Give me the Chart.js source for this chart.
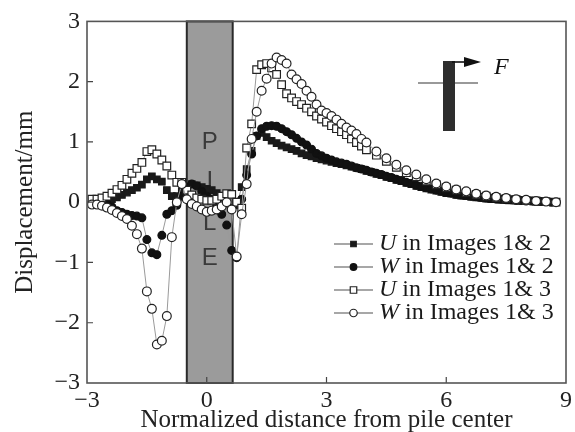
<!DOCTYPE html>
<html>
<head>
<meta charset="utf-8">
<script src="https://cdn.jsdelivr.net/npm/chart.js@4.4.1/dist/chart.umd.min.js"></script>
<style>
  html, body { margin: 0; padding: 0; background: #fff; }
  #wrap { width: 575px; height: 432px; position: relative; }
</style>
</head>
<body>
<div id="wrap"><canvas id="chart"></canvas></div>
<script>
// --- DATA ---
// x positions (normalized distance) of the filled-marker series (Images 1& 2)
const xFilled = [
  -2.875, -2.75, -2.625, -2.5, -2.375, -2.25, -2.125, -2.0, -1.875, -1.75,
  -1.625, -1.5, -1.375, -1.25, -1.125, -1.0, -0.875, -0.75, -0.625, -0.5,
  -0.375, -0.25, -0.125, 0, 0.125, 0.25, 0.375, 0.5, 0.625, 0.75,
  0.875, 1.0, 1.125, 1.25, 1.375, 1.5, 1.625, 1.75, 1.875, 2.0,
  2.125, 2.25, 2.375, 2.5, 2.625, 2.75, 2.875, 3.0, 3.125, 3.25,
  3.375, 3.5, 3.625, 3.75, 3.875, 4.0, 4.125, 4.25, 4.375, 4.5,
  4.625, 4.75, 4.875, 5.0, 5.125, 5.25, 5.375, 5.5, 5.625, 5.75,
  5.875, 6.0, 6.125, 6.25, 6.375, 6.5, 6.625, 6.75, 6.875, 7.0,
  7.125, 7.25, 7.375, 7.5, 7.625, 7.75, 7.875, 8.0, 8.125, 8.25,
  8.375, 8.5, 8.625, 8.75
];
const uImg12 = [
  0.02, 0.02, 0.02, 0.03, 0.05, 0.08, 0.12, 0.16, 0.20, 0.24,
  0.29, 0.38, 0.43, 0.38, 0.34, 0.20, 0.10, 0.10, 0.18, 0.26,
  0.30, 0.28, 0.25, 0.22, 0.20, 0.15, 0.08, -0.02, -0.10, -0.05,
  0.25, 0.55, 0.85, 1.10, 1.15, 1.08, 1.02, 0.98, 0.94, 0.91,
  0.88, 0.85, 0.81, 0.78, 0.76, 0.73, 0.71, 0.69, 0.67, 0.65,
  0.63, 0.61, 0.59, 0.57, 0.55, 0.52, 0.50, 0.47, 0.45, 0.42,
  0.40, 0.37, 0.35, 0.32, 0.30, 0.27, 0.25, 0.23, 0.21, 0.19,
  0.17, 0.15, 0.14, 0.12, 0.11, 0.10, 0.09, 0.08, 0.07, 0.06,
  0.05, 0.05, 0.04, 0.04, 0.03, 0.03, 0.02, 0.02, 0.02, 0.01,
  0.01, 0.01, 0.00, 0.00
];
const wImg12 = [
  0.00, 0.00, 0.00, -0.03, -0.08, -0.14, -0.17, -0.20, -0.22, -0.23,
  -0.26, -0.62, -0.84, -0.87, -0.55, -0.20, -0.14, -0.05, 0.10, 0.25,
  0.30, 0.27, 0.18, 0.10, 0.05, -0.05, -0.20, -0.38, -0.80, -0.92,
  0.05, 0.45, 0.80, 1.10, 1.22, 1.26, 1.27, 1.26, 1.22, 1.17,
  1.12, 1.06, 1.00, 0.95, 0.88, 0.81, 0.77, 0.73, 0.70, 0.67,
  0.65, 0.63, 0.60, 0.57, 0.55, 0.53, 0.50, 0.48, 0.46, 0.43,
  0.41, 0.38, 0.36, 0.33, 0.31, 0.28, 0.26, 0.24, 0.22, 0.20,
  0.18, 0.16, 0.15, 0.13, 0.12, 0.11, 0.10, 0.09, 0.08, 0.07,
  0.06, 0.05, 0.05, 0.04, 0.04, 0.03, 0.03, 0.02, 0.02, 0.01,
  0.01, 0.01, 0.00, 0.00
];

// x positions of the open-marker series (Images 1& 3)
const xOpen = [
  -2.875, -2.75, -2.625, -2.5, -2.375, -2.25, -2.125, -2.0, -1.875, -1.75,
  -1.625, -1.5, -1.375, -1.25, -1.125, -1.0, -0.875, -0.75, -0.625, -0.5,
  -0.375, -0.25, -0.125, 0, 0.125, 0.25, 0.375, 0.5, 0.625, 0.75,
  0.875, 1.0, 1.125, 1.25, 1.375, 1.5, 1.625, 1.75, 1.875, 2.0,
  2.125, 2.25, 2.375, 2.5, 2.625, 2.75, 2.875, 3.0, 3.125, 3.25,
  3.375, 3.5, 3.625, 3.75, 3.875, 4.0, 4.25, 4.5, 4.75, 5.0,
  5.25, 5.5, 5.75, 6.0, 6.25, 6.5, 6.75, 7.0, 7.25, 7.5,
  7.75, 8.0, 8.25, 8.5, 8.75
];
const uImg13 = [
  0.05, 0.05, 0.07, 0.10, 0.15, 0.21, 0.28, 0.38, 0.48, 0.56,
  0.66, 0.84, 0.87, 0.80, 0.70, 0.60, 0.45, 0.33, 0.33, 0.20,
  0.12, 0.07, 0.05, 0.03, 0.03, 0.05, 0.10, 0.14, 0.13, 0.00,
  -0.10, 0.90, 1.30, 2.20, 2.28, 2.30, 2.23, 2.12, 1.95, 1.80,
  1.73, 1.67, 1.62, 1.56, 1.50, 1.43, 1.38, 1.33, 1.27, 1.22,
  1.17, 1.12, 1.05, 0.99, 0.93, 0.87, 0.78, 0.68, 0.58, 0.49,
  0.42, 0.35, 0.29, 0.24, 0.20, 0.16, 0.13, 0.10, 0.08, 0.06,
  0.04, 0.03, 0.02, 0.01, 0.00
];
const wImg13 = [
  -0.04, -0.04, -0.06, -0.09, -0.13, -0.18, -0.23, -0.28, -0.39, -0.53,
  -0.77, -1.48, -1.77, -2.36, -2.30, -1.89, -0.58, 0.00, 0.30, 0.05,
  -0.03, -0.07, -0.12, -0.16, -0.14, -0.12, -0.07, 0.00, -0.12, -0.90,
  -0.20, 0.30, 1.05, 1.50, 1.85, 2.05, 2.30, 2.40, 2.36, 2.30,
  2.12, 2.04, 1.96, 1.85, 1.75, 1.62, 1.52, 1.48, 1.43, 1.37,
  1.30, 1.24, 1.19, 1.13, 1.05, 0.99, 0.84, 0.73, 0.62, 0.53,
  0.46, 0.38, 0.31, 0.26, 0.21, 0.18, 0.14, 0.11, 0.09, 0.07,
  0.05, 0.04, 0.02, 0.01, 0.00
];

const legendLetters = ['U', 'W', 'U', 'W'];
const legendRest = [' in Images 1& 2', ' in Images 1& 2', ' in Images 1& 3', ' in Images 1& 3'];
const pileEdges = [-0.5, 0.65];
const pileLetters = ['P', 'I', 'L', 'E'];
const pileLetterY = [1.0, 0.35, -0.35, -0.93];

// --- STYLE ---
const SERIF = '"Liberation Serif", "Times New Roman", serif';
const markers = [
  { style: 'rect',   r: 4.6, fill: '#1a1a1a', edge: '#1a1a1a' },
  { style: 'circle', r: 3.9, fill: '#111',    edge: '#111' },
  { style: 'rect',   r: 5.4, fill: '#fff',    edge: '#222' },
  { style: 'circle', r: 4.4, fill: '#fff',    edge: '#222' }
];

const pts = (xs, ys) => xs.map((x, i) => ({ x: x, y: ys[i] }));
const seriesData = [pts(xFilled, uImg12), pts(xFilled, wImg12), pts(xOpen, uImg13), pts(xOpen, wImg13)];

const datasets = seriesData.map((d, i) => ({
  data: d,
  showLine: true,
  borderColor: '#9a9a9a',
  borderWidth: 1,
  pointStyle: markers[i].style,
  pointRadius: markers[i].r,
  pointBackgroundColor: markers[i].fill,
  pointBorderColor: markers[i].edge,
  pointBorderWidth: 1.2,
  order: 4 - i,
  clip: false
}));

function drawMarker(ctx, m, x, y) {
  ctx.save();
  ctx.fillStyle = m.fill; ctx.strokeStyle = m.edge; ctx.lineWidth = 1.2;
  ctx.beginPath();
  if (m.style === 'rect') {
    const s = m.r * Math.SQRT1_2;
    ctx.rect(x - s, y - s, 2 * s, 2 * s);
  } else {
    ctx.arc(x, y, m.r, 0, Math.PI * 2);
  }
  ctx.fill(); ctx.stroke();
  ctx.restore();
}

// --- DECORATIONS (pile, frame, inward ticks, legend, inset) ---
const decor = {
  id: 'decor',
  beforeDatasetsDraw(chart) {
    const { ctx, chartArea: a, scales: { x, y } } = chart;
    const x0 = x.getPixelForValue(pileEdges[0]);
    const x1 = x.getPixelForValue(pileEdges[1]);
    ctx.save();
    ctx.fillStyle = '#9b9b9b';
    ctx.fillRect(x0, a.top, x1 - x0, a.bottom - a.top);
    ctx.strokeStyle = '#2a2a2a'; ctx.lineWidth = 2;
    ctx.strokeRect(x0, a.top, x1 - x0, a.bottom - a.top);
    ctx.fillStyle = '#3a3a3a';
    ctx.font = '24px "Liberation Sans", Arial, sans-serif';
    ctx.textAlign = 'center'; ctx.textBaseline = 'middle';
    const xc = (x0 + x1) / 2;
    pileLetters.forEach((l, i) => ctx.fillText(l, xc, y.getPixelForValue(pileLetterY[i])));
    ctx.restore();
  },
  afterDraw(chart) {
    const { ctx, chartArea: a, scales: { x, y } } = chart;
    ctx.save();
    // inward ticks
    ctx.strokeStyle = '#444'; ctx.lineWidth = 1.2;
    ctx.beginPath();
    x.ticks.forEach(t => {
      const px = x.getPixelForValue(t.value);
      if (px <= a.left + 1 || px >= a.right - 1) return;
      ctx.moveTo(px, a.bottom); ctx.lineTo(px, a.bottom - 6);
    });
    y.ticks.forEach(t => {
      const py = y.getPixelForValue(t.value);
      if (py <= a.top + 1 || py >= a.bottom - 1) return;
      ctx.moveTo(a.left, py); ctx.lineTo(a.left + 6, py);
    });
    ctx.stroke();
    // frame
    ctx.strokeStyle = '#555'; ctx.lineWidth = 1.6;
    ctx.strokeRect(a.left, a.top, a.right - a.left, a.bottom - a.top);

    // legend
    const rowY = [244, 267, 290, 313];
    legendLetters.forEach((letter, i) => {
      const yy = rowY[i];
      ctx.strokeStyle = '#8a8a8a'; ctx.lineWidth = 1.6;
      ctx.beginPath(); ctx.moveTo(334, yy); ctx.lineTo(373, yy); ctx.stroke();
      drawMarker(ctx, { ...markers[i], r: markers[i].r * 0.85 }, 353.5, yy);
      ctx.fillStyle = '#1a1a1a'; ctx.textBaseline = 'middle'; ctx.textAlign = 'left';
      ctx.font = 'italic 24px ' + SERIF;
      ctx.fillText(letter, 379, yy);
      const w = ctx.measureText(letter).width;
      ctx.font = '24px ' + SERIF;
      ctx.fillText(legendRest[i], 379 + w, yy);
    });

    // inset sketch of the loaded pile
    ctx.strokeStyle = '#777'; ctx.lineWidth = 1.4;
    ctx.beginPath(); ctx.moveTo(418, 83); ctx.lineTo(478, 83); ctx.stroke();
    ctx.fillStyle = '#2e2e2e';
    ctx.fillRect(443, 61, 12, 70);
    ctx.strokeStyle = '#111'; ctx.lineWidth = 1.6;
    ctx.beginPath(); ctx.moveTo(452, 62); ctx.lineTo(468, 62); ctx.stroke();
    ctx.fillStyle = '#111';
    ctx.beginPath(); ctx.moveTo(481, 62); ctx.lineTo(464, 57); ctx.lineTo(464, 67); ctx.closePath(); ctx.fill();
    ctx.font = 'italic 24px ' + SERIF;
    ctx.textBaseline = 'middle'; ctx.textAlign = 'left';
    ctx.fillText('F', 494, 68);
    ctx.restore();
  }
};

const minus = v => (v < 0 ? '\u2212' + Math.abs(v) : String(v));

new Chart(document.getElementById('chart'), {
  type: 'scatter',
  data: { datasets: datasets },
  options: {
    responsive: true,
    maintainAspectRatio: false,
    animation: false,
    layout: { padding: { top: 18, right: 8, left: 0, bottom: 0 } },
    plugins: { legend: { display: false }, tooltip: { enabled: false } },
    scales: {
      x: {
        type: 'linear', min: -3, max: 9,
        ticks: { stepSize: 3, color: '#222', padding: 3, maxRotation: 0,
                 font: { family: SERIF, size: 24 }, callback: minus },
        grid: { display: false, drawTicks: false },
        border: { display: false },
        title: { display: true, text: 'Normalized distance from pile center', color: '#222',
                 font: { family: SERIF, size: 25, lineHeight: 0.9 }, padding: { top: 0, bottom: 0 } },
        afterFit(s) { s.height = 49; }
      },
      y: {
        type: 'linear', min: -3, max: 3,
        ticks: { stepSize: 1, color: '#222', padding: 7,
                 font: { family: SERIF, size: 24 }, callback: minus },
        grid: { display: false, drawTicks: false },
        border: { display: false },
        title: { display: true, text: 'Displacement/mm', color: '#222',
                 font: { family: SERIF, size: 25 }, padding: { top: 10, bottom: 0 } },
        afterFit(s) { s.width = 87; }
      }
    }
  },
  plugins: [decor]
});
</script>
</body>
</html>
